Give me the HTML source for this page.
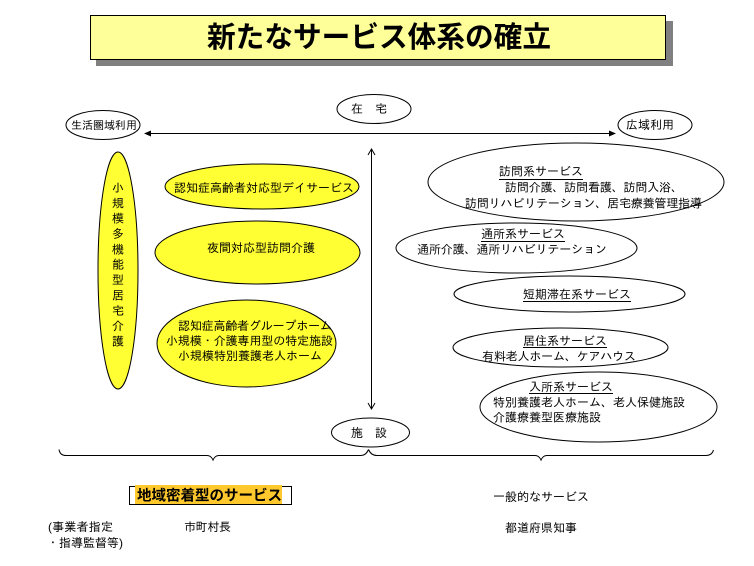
<!DOCTYPE html>
<html><head><meta charset="utf-8"><style>
html,body{margin:0;padding:0;background:#fff;width:754px;height:566px;overflow:hidden}
svg{display:block}
text{font-family:"Liberation Sans","IPAGothic","Noto Sans CJK JP",sans-serif;font-size:12px;fill:#000}
ellipse{stroke:#000;stroke-width:1;fill:#fff}
.y{fill:#ffff33}
.l{stroke:#000;stroke-width:1;fill:none}
</style></head><body>
<svg width="754" height="566" viewBox="0 0 754 566" xmlns="http://www.w3.org/2000/svg">
<rect x="96" y="21" width="577" height="45" fill="#808080"/>
<rect x="90.5" y="15.5" width="575" height="44" fill="#ffff99" stroke="#000"/>
<text x="207" y="47" textLength="344" lengthAdjust="spacingAndGlyphs" style="font-family:'Liberation Sans','Noto Sans CJK JP',sans-serif;font-size:29px;font-weight:700">新たなサービス体系の確立</text>

<ellipse cx="103" cy="125" rx="37" ry="14.5"/>
<ellipse cx="374" cy="109" rx="37" ry="14.5"/>
<ellipse cx="655" cy="125" rx="37" ry="14.5"/>
<ellipse cx="370.5" cy="432.5" rx="39" ry="14.5"/>

<line class="l" x1="146" y1="133.5" x2="614" y2="133.5"/>
<path d="M144 133.5l7-3v6zM616 133.5l-7-3v6z" fill="#000"/>
<line class="l" x1="371.5" y1="150" x2="371.5" y2="408"/>
<path class="l" d="M368 155l3.500-6 3.500 6M368 403l3.500 6 3.500-6"/>

<ellipse class="y" cx="118" cy="270.500" rx="20" ry="118.500"/>
<ellipse class="y" cx="262" cy="186.500" rx="97" ry="22.500"/>
<ellipse class="y" cx="257.500" cy="252.500" rx="102.500" ry="31.500"/>
<ellipse class="y" cx="246.500" cy="343.500" rx="89.500" ry="43.500"/>

<ellipse cx="576" cy="182" rx="148" ry="39"/>
<ellipse cx="516.500" cy="248" rx="120.500" ry="25"/>
<ellipse cx="569.500" cy="294" rx="115.500" ry="18"/>
<ellipse cx="560.500" cy="347.500" rx="107.500" ry="19.500"/>
<ellipse cx="598.500" cy="407" rx="118.500" ry="35"/>

<path class="l" d="M59 449.500Q60 455.500 66 455.500H207Q211 455.500 213 460Q215 455.500 219 455.500H361Q366 455.500 368.500 449.500"/>
<path class="l" d="M368.500 449.500Q371 455.500 377 455.500H535Q539 455.500 541 460Q543 455.500 547 455.500H706Q712 455.500 713.500 450"/>

<text x="71" y="129" style="font-size:11px">生活圏域利用</text>
<text x="351" y="113">在　宅</text>
<text x="626" y="129">広域利用</text>
<text x="351" y="437">施　設</text>

<g text-anchor="middle">
<text x="118" y="192">小</text><text x="118" y="207.400">規</text><text x="118" y="222.700">模</text><text x="118" y="238">多</text><text x="118" y="253.400">機</text><text x="118" y="268.700">能</text><text x="118" y="284">型</text><text x="118" y="299.500">居</text><text x="118" y="314.800">宅</text><text x="118" y="330.200">介</text><text x="118" y="345.500">護</text>
</g>

<text x="174" y="192" textLength="180">認知症高齢者対応型デイサービス</text>
<text x="207" y="252">夜間対応型訪問介護</text>
<text x="178" y="330" textLength="154">認知症高齢者グループホーム</text>
<text x="166" y="345" textLength="167">小規模・介護専用型の特定施設</text>
<text x="178" y="360">小規模特別養護老人ホーム</text>

<text x="499" y="175.500">訪問系サービス</text>
<line class="l" x1="499" y1="179.500" x2="583" y2="179.500"/>
<text x="505" y="191.500" textLength="178">訪問介護、訪問看護、訪問入浴、</text>
<text x="465" y="207.500" textLength="237">訪問リハビリテーション、居宅療養管理指導</text>

<text x="481" y="238">通所系サービス</text>
<line class="l" x1="481" y1="241.500" x2="565" y2="241.500"/>
<text x="417" y="253.500" textLength="190">通所介護、通所リハビリテーション</text>

<text x="523" y="298.500">短期滞在系サービス</text>
<line class="l" x1="523" y1="301.500" x2="631" y2="301.500"/>

<text x="523" y="345">居住系サービス</text>
<line class="l" x1="523" y1="347.500" x2="607" y2="347.500"/>
<text x="482" y="360.500" textLength="154">有料老人ホーム、ケアハウス</text>

<text x="529" y="391">入所系サービス</text>
<line class="l" x1="529" y1="393.500" x2="613" y2="393.500"/>
<text x="493" y="406.500">特別養護老人ホーム、老人保健施設</text>
<text x="493" y="421.500">介護療養型医療施設</text>

<rect x="129.500" y="486.500" width="162" height="18" fill="#fff" stroke="#000"/>
<rect x="135" y="485" width="147" height="19" fill="#ffc82d"/>
<text x="137" y="500.500" textLength="145" lengthAdjust="spacingAndGlyphs" style="font-family:'Liberation Sans','Noto Sans CJK JP',sans-serif;font-size:14.500px;font-weight:700">地域密着型のサービス</text>

<text x="493" y="501">一般的なサービス</text>
<text x="505" y="532">都道府県知事</text>
<text x="48" y="531" textLength="65">(事業者指定</text>
<text x="47" y="547">・指導監督等)</text>
<text x="184" y="531" textLength="47">市町村長</text>
</svg>
</body></html>
